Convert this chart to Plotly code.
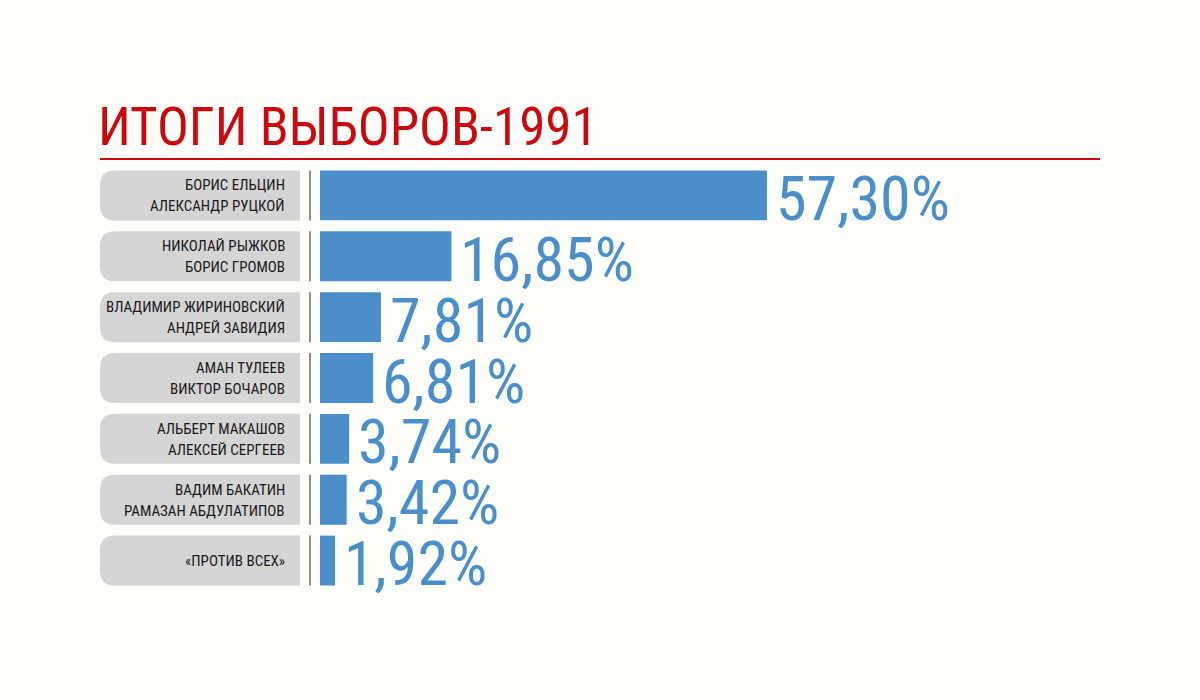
import plotly.graph_objects as go

title_text = "ИТОГИ ВЫБОРОВ-1991"
line1 = ["БОРИС ЕЛЬЦИН", "НИКОЛАЙ РЫЖКОВ", "ВЛАДИМИР ЖИРИНОВСКИЙ", "АМАН ТУЛЕЕВ",
         "АЛЬБЕРТ МАКАШОВ", "ВАДИМ БАКАТИН", "«ПРОТИВ ВСЕХ»"]
line2 = ["АЛЕКСАНДР РУЦКОЙ", "БОРИС ГРОМОВ", "АНДРЕЙ ЗАВИДИЯ", "ВИКТОР БОЧАРОВ",
         "АЛЕКСЕЙ СЕРГЕЕВ", "РАМАЗАН АБДУЛАТИПОВ", ""]
values = [57.30, 16.85, 7.81, 6.81, 3.74, 3.42, 1.92]

W, H = 1200, 700
BG = "#fdfdf9"
BLUE = "#4a8fc9"
RED = "#c80a10"
BOX = "#d5d5d5"
NARROW = "Roboto Condensed, DejaVu Sans Condensed, Liberation Sans Narrow, sans-serif"

n = len(values)
cats = list(range(n))
left_px, zero_px, right_px = 100, 320, 1100
scale = 7.8  # pixels per percent
top_px, row_h = 164.5, 61
bot_px = top_px + n * row_h

fig = go.Figure(go.Bar(
    x=values, y=cats, orientation="h",
    marker=dict(color=BLUE, line=dict(width=0)),
    width=50 / 61, hoverinfo="skip",
))

shapes = []
annotations = []
for i in cats:
    shapes.append(dict(
        type="path", xref="x", yref="y", xsizemode="pixel", ysizemode="pixel",
        xanchor=0, yanchor=i,
        path="M -205,25 L -20,25 L -20,-25 L -205,-25 Q -220,-25 -220,-10 L -220,10 Q -220,25 -205,25 Z",
        fillcolor=BOX, line=dict(width=0), layer="below",
    ))
    shapes.append(dict(
        type="line", xref="x", yref="y", xsizemode="pixel", ysizemode="pixel",
        xanchor=0, yanchor=i, x0=-10, x1=-10, y0=-25, y1=25,
        line=dict(color="#8c8c8c", width=2),
    ))
    lab_font = dict(family=NARROW, size=15, color="#1a1a1a")
    if line2[i]:
        annotations.append(dict(x=0, y=i, xref="x", yref="y", xanchor="right", yanchor="middle",
                                xshift=-33, yshift=10, text=line1[i], showarrow=False, font=lab_font))
        annotations.append(dict(x=0, y=i, xref="x", yref="y", xanchor="right", yanchor="middle",
                                xshift=-33, yshift=-11, text=line2[i], showarrow=False, font=lab_font))
    else:
        annotations.append(dict(x=0, y=i, xref="x", yref="y", xanchor="right", yanchor="middle",
                                xshift=-33, yshift=0, text=line1[i], showarrow=False, font=lab_font))
    annotations.append(dict(
        x=values[i], y=i, xref="x", yref="y", xanchor="left", yanchor="middle",
        xshift=7, yshift=-3, text=f"{values[i]:.2f}".replace(".", ",") + "%", showarrow=False,
        font=dict(family=NARROW, size=62, color=BLUE),
    ))

rule_y = (bot_px - 158.5) / (bot_px - top_px)
shapes.append(dict(type="line", xref="paper", yref="paper", x0=0, x1=1, y0=rule_y, y1=rule_y,
                   line=dict(color=RED, width=2)))

fig.update_layout(
    width=W, height=H,
    paper_bgcolor=BG, plot_bgcolor=BG,
    margin=dict(l=left_px, r=W - right_px, t=top_px, b=H - bot_px, pad=0),
    showlegend=False,
    title=dict(text=title_text, xref="container", yref="container",
               x=98 / W, xanchor="left", y=1 - 126 / H, yanchor="middle",
               font=dict(family=NARROW, size=53, color=RED)),
    xaxis=dict(range=[-(zero_px - left_px) / scale, (right_px - zero_px) / scale],
               visible=False, fixedrange=True),
    yaxis=dict(range=[n - 0.5, -0.5], visible=False, fixedrange=True),
    shapes=shapes, annotations=annotations,
)

fig.write_html("out.html", config={"displayModeBar": False},
               post_script="document.body.style.margin='0';document.body.style.background='%s';" % BG)
